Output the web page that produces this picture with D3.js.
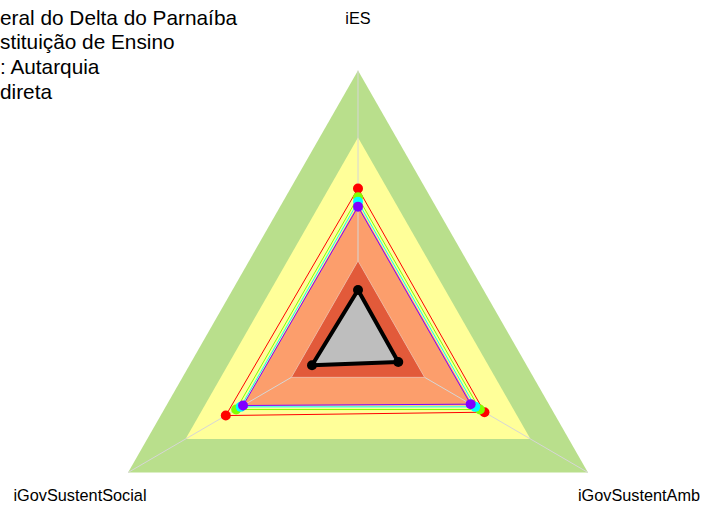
<!DOCTYPE html>
<html>
<head>
<meta charset="utf-8">
<script src="https://cdn.jsdelivr.net/npm/d3@7"></script>
<style>
  body { margin: 0; background: #fff; }
  svg { display: block; }
  text { font-family: "Liberation Sans", Arial, sans-serif; }
</style>
</head>
<body>
<div id="chart"></div>
<script>
// axes of the radar, in drawing order (top, bottom left, bottom right)
const axes = ["iES", "iGovSustentSocial", "iGovSustentAmb"];

// title lines (cut at the left edge as in the original)
const titleLines = ["eral do Delta do Parnaíba", "stituição de Ensino", ": Autarquia", "direta"];

// background bands: outer level and colour
const bandLevels = [1.0, 0.75, 0.5, 0.29];
const bandColors = ["#b9df8c", "#ffff99", "#fc9e6c", "#e25a3a"];

// series values per axis [iES, iGovSustentSocial, iGovSustentAmb]
const seriesNames = ["s1", "s2", "s3", "s4"];
const seriesColors = ["#ff0000", "#80ff00", "#00ffff", "#8000ff"];
const seriesValues = [
  [0.56, 0.575, 0.55],
  [0.527, 0.53, 0.53],
  [0.51, 0.51, 0.51],
  [0.492, 0.50, 0.49]
];
// the highlighted entity
const mainValues = [0.181, 0.20, 0.175];

const W = 702, H = 511;
const cx = 358, cy = 338.5;

const svg = d3.select("#chart").append("svg")
    .attr("width", W)
    .attr("height", H);

// radial scales (x and y slightly different, like the R device)
const rx = d3.scaleLinear().domain([0, 1]).range([0, 265.5]);
const ry = d3.scaleLinear().domain([0, 1]).range([0, 268]);
const angle = d3.scaleOrdinal().domain(axes).range([90, 210, 330].map(a => a * Math.PI / 180));

function pt(axis, v) {
    let a = angle(axis);
    return [cx + rx(v) * Math.cos(a), cy - ry(v) * Math.sin(a)];
}

const line = d3.line();
function poly(vals) {
    return line(axes.map((a, i) => pt(a, vals[i]))) + "Z";
}

// bands, outer first
bandLevels.forEach(function(lv, i) {
    if (i == 3) {
        // axis lines go under the inner band
        axes.forEach(function(a) {
            let p = pt(a, 1);
            svg.append("line")
                .attr("x1", cx).attr("y1", cy)
                .attr("x2", p[0]).attr("y2", p[1])
                .style("stroke", "#d6d6d6")
                .style("stroke-width", 1);
        });
    }
    svg.append("path")
        .attr("d", poly([lv, lv, lv]))
        .style("fill", bandColors[i])
        .style("stroke", i == 3 ? "#f0b8a0" : "none")
        .style("stroke-width", 1);
});

// coloured series
seriesValues.forEach(function(vals, i) {
    svg.append("path")
        .attr("d", poly(vals))
        .style("fill", "none")
        .style("stroke", seriesColors[i])
        .style("stroke-width", 1);
});
seriesValues.forEach(function(vals, i) {
    svg.selectAll(".pt" + i)
        .data(axes)
        .enter().append("circle")
        .attr("cx", (a, j) => pt(a, vals[j])[0])
        .attr("cy", (a, j) => pt(a, vals[j])[1])
        .attr("r", 5)
        .style("fill", seriesColors[i]);
});

// main entity
svg.append("path")
    .attr("d", poly(mainValues))
    .style("fill", "#bebebe")
    .style("stroke", "#000")
    .style("stroke-width", 4)
    .style("stroke-linejoin", "round");
svg.selectAll(".mainpt")
    .data(axes)
    .enter().append("circle")
    .attr("cx", (a, j) => pt(a, mainValues[j])[0])
    .attr("cy", (a, j) => pt(a, mainValues[j])[1])
    .attr("r", 5)
    .style("fill", "#000");

// axis labels
const labelPos = [[358, 24], [80, 501], [639, 501]];
svg.selectAll(".vlab")
    .data(axes)
    .enter().append("text")
    .attr("x", (d, i) => labelPos[i][0])
    .attr("y", (d, i) => labelPos[i][1])
    .attr("text-anchor", "middle")
    .style("font-size", "16.3px")
    .style("fill", "#000")
    .text(d => d);

// title
svg.selectAll(".title")
    .data(titleLines)
    .enter().append("text")
    .attr("x", 0)
    .attr("y", (d, i) => 24.5 + i * 24.7)
    .style("font-size", "20.8px")
    .style("fill", "#000")
    .text(d => d);
</script>
</body>
</html>
